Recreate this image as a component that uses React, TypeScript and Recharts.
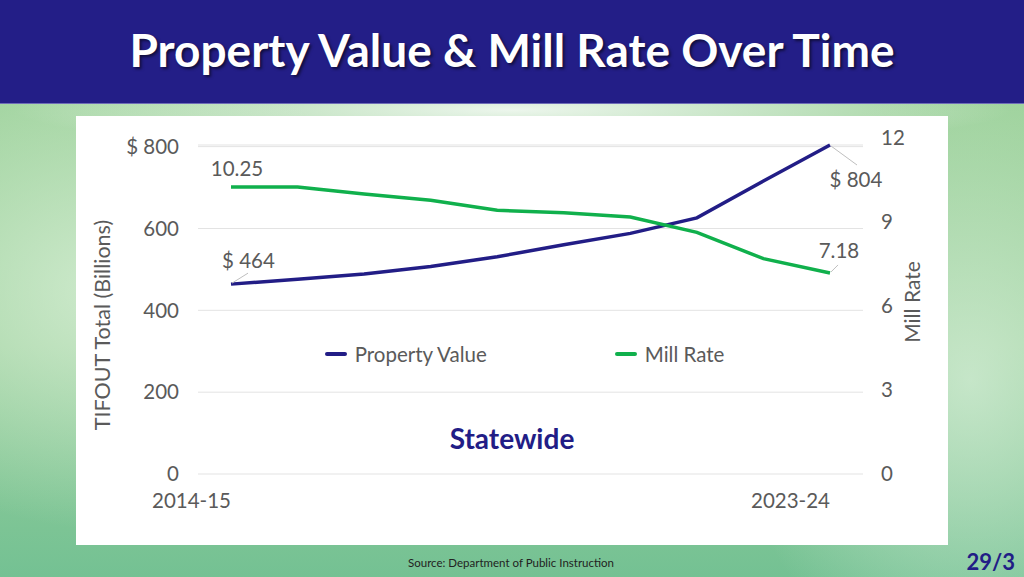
import React from 'react';
import { LineChart, Line, XAxis, YAxis, CartesianGrid, Legend, LabelList } from 'recharts';

const years = ['2014-15', '2015-16', '2016-17', '2017-18', '2018-19', '2019-20', '2020-21', '2021-22', '2022-23', '2023-24'];
const propertyValue = [464, 476, 489, 507, 531, 560, 588, 626, 716, 804];
const millRate = [10.25, 10.25, 10.0, 9.78, 9.42, 9.33, 9.18, 8.63, 7.69, 7.18];
const leftTicks = [0, 200, 400, 600, 800];
const rightTicks = [0, 3, 6, 9, 12];
const shownYears = ['2014-15', '2023-24'];

const BLUE = '#221d86';
const GREEN = '#10b04c';
const GRAY = '#5a5a5a';
const FONT = 'Lato, "Open Sans", sans-serif';
const FS = 20.5;

const data = years.map((y, i) => ({ year: y, value: propertyValue[i], rate: millRate[i] }));
const last = years.length - 1;

// end-point labels, first and last only
const ValueLabel = (props: any) => {
  const { x, y, index, value } = props;
  if (index === 0) {
    return (
      <g>
        <line x1={x + 1} y1={y - 1} x2={x + 17} y2={y - 11} stroke="#bfbfbf" strokeWidth={1} />
        <text x={x - 9} y={y - 16} fill={GRAY} fontSize={FS} fontFamily={FONT}>{`$ ${value}`}</text>
      </g>
    );
  }
  if (index === last) {
    return (
      <g>
        <line x1={x + 1} y1={y + 1} x2={x + 27} y2={y + 20} stroke="#bfbfbf" strokeWidth={1} />
        <text x={x + 26} y={y + 42} fill={GRAY} fontSize={FS} fontFamily={FONT} textAnchor="middle">{`$ ${value}`}</text>
      </g>
    );
  }
  return null;
};

const RateLabel = (props: any) => {
  const { x, y, index, value } = props;
  if (index === 0) {
    return <text x={x + 6} y={y - 11} fill={GRAY} fontSize={FS} fontFamily={FONT} textAnchor="middle">{value.toFixed(2)}</text>;
  }
  if (index === last) {
    return (
      <g>
        <line x1={x + 1} y1={y - 1} x2={x + 8} y2={y - 8} stroke="#bfbfbf" strokeWidth={1} />
        <text x={x + 9} y={y - 15} fill={GRAY} fontSize={FS} fontFamily={FONT} textAnchor="middle">{value.toFixed(2)}</text>
      </g>
    );
  }
  return null;
};

const LegendBox = () => (
  <div style={{ display: 'flex', justifyContent: 'center', gap: 128, fontFamily: FONT, fontSize: FS, color: GRAY }}>
    {[{ name: 'Property Value', color: BLUE }, { name: 'Mill Rate', color: GREEN }].map((it) => (
      <div key={it.name} style={{ display: 'flex', alignItems: 'center' }}>
        <span style={{ display: 'inline-block', width: 22, height: 4, borderRadius: 2, background: it.color, marginRight: 8 }} />
        <span>{it.name}</span>
      </div>
    ))}
  </div>
);

export default function App() {
  return (
    <div style={{
      position: 'absolute', left: 0, top: 0, width: 1024, height: 577, overflow: 'hidden', fontFamily: FONT,
      background: 'radial-gradient(ellipse 300px 240px at 110px 290px, rgba(218,240,216,0.8), rgba(218,240,216,0) 100%), radial-gradient(ellipse 240px 300px at 970px 380px, rgba(218,240,220,0.7), rgba(218,240,220,0) 100%), radial-gradient(ellipse 500px 40px at 512px 110px, rgba(245,250,245,0.9), rgba(245,250,245,0) 100%), linear-gradient(180deg, #9fd39c 0%, #9bd09c 60%, #74c193 100%)',
    }}>
      <div style={{ position: 'absolute', left: 0, top: 0, width: 1024, height: 103, background: '#231e87', borderBottom: '1px solid #6f6db8' }}>
        <div style={{ textAlign: 'center', color: '#fff', fontWeight: 700, fontSize: 46, lineHeight: '100px', textShadow: '2px 2px 3px rgba(0,0,0,0.55)' }}>
          Property Value &amp; Mill Rate Over Time
        </div>
      </div>

      <div style={{ position: 'absolute', left: 76, top: 116, width: 872, height: 429, background: '#fff' }}>
        <LineChart width={872} height={429} data={data} margin={{ top: 29, right: 0, bottom: 0, left: 0 }}>
          <CartesianGrid yAxisId="left" vertical={false} stroke="#e3e3e3" />
          <XAxis
            dataKey="year"
            ticks={shownYears}
            interval={0}
            axisLine={false}
            tickLine={false}
            tickSize={0}
            tickMargin={19}
            height={71}
            padding={{ left: 33, right: 33 }}
            tick={{ fill: GRAY, fontSize: FS, fontFamily: FONT, textAnchor: 'end' }}
          />
          <YAxis
            yAxisId="left"
            domain={[0, 800]}
            ticks={leftTicks}
            width={122}
            axisLine={false}
            tickLine={false}
            tickSize={0}
            tickMargin={19}
            tickFormatter={(v: number) => (v === 800 ? '$ 800' : String(v))}
            tick={{ fill: GRAY, fontSize: FS, fontFamily: FONT }}
            label={{
              content: () => (
                <text x={29} y={209} transform="rotate(-90 29 209)" textAnchor="middle" dominantBaseline="middle" fill={GRAY} fontSize={21.5} fontFamily={FONT}>
                  TIFOUT Total (Billions)
                </text>
              ),
            }}
          />
          <YAxis
            yAxisId="right"
            orientation="right"
            domain={[0, 11.75]}
            allowDataOverflow
            ticks={rightTicks}
            width={85}
            axisLine={false}
            tickLine={false}
            tickSize={0}
            tickMargin={18}
            tick={{ fill: GRAY, fontSize: FS, fontFamily: FONT }}
            label={{
              content: () => (
                <text x={839} y={186} transform="rotate(-90 839 186)" textAnchor="middle" dominantBaseline="middle" fill={GRAY} fontSize={21} fontFamily={FONT}>
                  Mill Rate
                </text>
              ),
            }}
          />
          <Legend
            layout="horizontal"
            verticalAlign="middle"
            align="center"
            content={<LegendBox />}
            wrapperStyle={{ top: 226, left: 116, width: 665 }}
          />
          <Line yAxisId="left" type="linear" dataKey="value" name="Property Value" stroke={BLUE} strokeWidth={3.5} dot={false} isAnimationActive={false}>
            <LabelList dataKey="value" content={<ValueLabel />} />
          </Line>
          <Line yAxisId="right" type="linear" dataKey="rate" name="Mill Rate" stroke={GREEN} strokeWidth={3.5} dot={false} isAnimationActive={false}>
            <LabelList dataKey="rate" content={<RateLabel />} />
          </Line>
        </LineChart>
        <div style={{ position: 'absolute', left: 0, width: 872, top: 305, textAlign: 'center', color: BLUE, fontWeight: 700, fontSize: 28 }}>
          Statewide
        </div>
      </div>

      <div style={{ position: 'absolute', left: 408, top: 556, fontSize: 11.5, color: '#222' }}>
        Source: Department of Public Instruction
      </div>
      <div style={{ position: 'absolute', right: 9, top: 548, fontSize: 22, fontWeight: 700, color: BLUE }}>
        29/3
      </div>
    </div>
  );
}
